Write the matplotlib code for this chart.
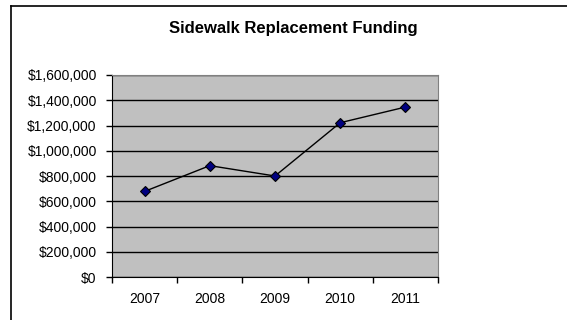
import matplotlib.pyplot as plt
from matplotlib.lines import Line2D
from matplotlib.ticker import FuncFormatter, FixedLocator

years = ['2007', '2008', '2009', '2010', '2011']
funding = [678000, 882000, 800000, 1222000, 1346000]
y_ticks = [0, 200000, 400000, 600000, 800000, 1000000, 1200000, 1400000, 1600000]

plt.rcParams['font.family'] = ['Liberation Sans', 'DejaVu Sans']

fig = plt.figure(figsize=(5.67, 3.2), dpi=100)
ax = fig.add_axes([112 / 567, 1 - 277 / 320, 326 / 567, 202 / 320])

x = list(range(len(years)))
ax.plot(x, funding, color='black', lw=1, marker='D', markersize=5.5,
        markerfacecolor='#000080', markeredgecolor='black', markeredgewidth=0.8, zorder=3)

ax.set_facecolor('#C0C0C0')
ax.set_xlim(-0.5, len(years) - 0.5)
ax.set_ylim(0, 1600000)
ax.set_yticks(y_ticks)
ax.yaxis.set_major_formatter(FuncFormatter(lambda v, p: f'${v:,.0f}'))
ax.grid(axis='y', color='black', lw=1)
ax.set_axisbelow(True)

# categories sit between tick marks, like a spreadsheet chart
ax.set_xticks(x)
ax.set_xticklabels(years)
ax.xaxis.set_minor_locator(FixedLocator([i - 0.5 for i in range(len(years) + 1)]))
ax.tick_params(axis='x', which='major', length=0, pad=11, labelsize=10)
ax.tick_params(axis='x', which='minor', length=4, width=1, direction='out')
ax.tick_params(axis='y', length=4, width=1, pad=7, labelsize=10)

for side in ['top', 'right']:
    ax.spines[side].set_color('#808080')
for side in ['left', 'bottom']:
    ax.spines[side].set_color('black')

fig.text(293 / 567, 1 - 28 / 320, 'Sidewalk Replacement Funding', ha='center', va='center',
         fontsize=12, fontweight='bold')

# chart area border
fig.add_artist(Line2D([11 / 567, 11 / 567], [0, 1 - 6 / 320], color='black', lw=1.2))
fig.add_artist(Line2D([11 / 567, 1], [1 - 6 / 320, 1 - 6 / 320], color='black', lw=1.2))

fig.savefig('out.png', dpi=100, facecolor='white')
